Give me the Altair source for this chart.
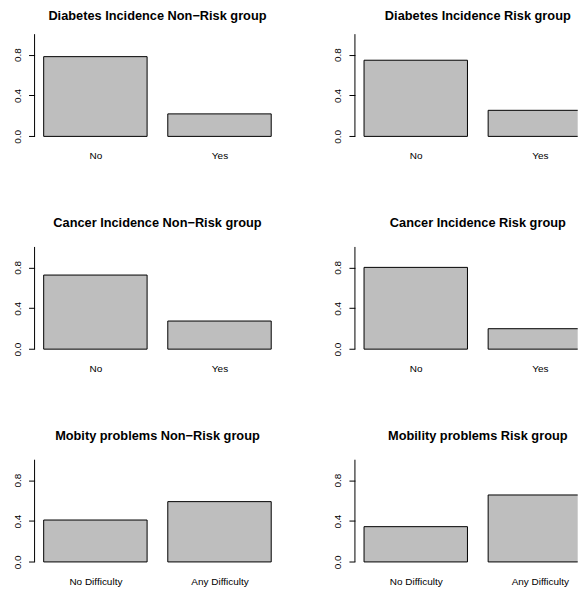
import altair as alt
import pandas as pd

# ---- data ----
titles = [
    "Diabetes Incidence Non−Risk group",
    "Diabetes Incidence Risk group",
    "Cancer Incidence Non−Risk group",
    "Cancer Incidence Risk group",
    "Mobity problems Non−Risk group",
    "Mobility problems Risk group",
]
cats_yes_no = ["No", "Yes"]
cats_mobility = ["No Difficulty", "Any Difficulty"]

diabetes_nonrisk = [0.78, 0.22]
diabetes_risk = [0.745, 0.255]
cancer_nonrisk = [0.725, 0.275]
cancer_risk = [0.80, 0.20]
mobility_nonrisk = [0.41, 0.59]
mobility_risk = [0.345, 0.655]

y_tick_values = [0.0, 0.2, 0.4, 0.6, 0.8, 1.0]
y_label_values = [0.0, 0.4, 0.8]

# R barplot geometry: bar width 1, space 0.2
bar_width = 1.0
bar_space = 0.2

# ---- layout ----
FONT = "Liberation Sans"
PLOT_W = 246          # full plot region width of the original device
PLOT_H = 110.5
RIGHT_W = 223         # right column is cut by the image edge
BAR_FILL = "#bebebe"

n_bars = 2
x_lo = bar_space
x_hi = n_bars * (bar_width + bar_space)
x_ext = 0.04 * (x_hi - x_lo)
X_MIN, X_MAX = x_lo - x_ext, x_hi + x_ext
PX_PER_UNIT = PLOT_W / (X_MAX - X_MIN)

label_test = " || ".join(f"datum.value == {v}" for v in y_label_values)
y_label_expr = f"({label_test}) ? format(datum.value, '.1f') : ''"


def panel(title, cats, vals, width, offset):
    left = [bar_space + i * (bar_width + bar_space) for i in range(len(cats))]
    df = pd.DataFrame({
        "cat": cats,
        "value": vals,
        "x0": left,
        "x1": [v + bar_width for v in left],
    })
    centers = [v + bar_width / 2 for v in left]
    cat_list = "[" + ",".join("'" + c + "'" for c in cats) + "]"
    x_label_expr = (
        f"{cat_list}[round((datum.value - {centers[0]}) / {bar_width + bar_space})]"
    )
    dx = (PLOT_W - width) / 2
    x_dom = [X_MIN, X_MIN + width / PX_PER_UNIT]
    bars = alt.Chart(df).mark_bar(
        fill=BAR_FILL, stroke="black", strokeWidth=1, clip=True
    ).encode(
        x=alt.X(
            "x0:Q",
            scale=alt.Scale(domain=x_dom, nice=False, zero=False),
            axis=alt.Axis(
                title=None, ticks=False, domain=False, grid=False, values=centers,
                labelExpr=x_label_expr, labelAngle=0, labelAlign="center",
                labelFlush=False, labelOverlap=False,
                labelFont=FONT, labelFontSize=10, labelColor="black", labelPadding=10.5,
            ),
        ),
        x2="x1:Q",
        y=alt.Y(
            "value:Q",
            scale=alt.Scale(domain=[-0.04, 1.04], nice=False, zero=False),
            axis=alt.Axis(
                title=None, domain=False, grid=False, values=y_tick_values,
                labelExpr=y_label_expr, labelAngle=270, labelAlign="center",
                labelBaseline="alphabetic", labelPadding=8.5, labelFont=FONT,
                labelFontSize=10, labelColor="black", labelOverlap=False,
                labelFlush=False, tickSize=6, tickColor="black", tickWidth=1,
            ),
        ),
        y2=alt.datum(0),
    )
    axis_line = alt.Chart(pd.DataFrame({"v": [0]})).mark_rule(
        color="black", strokeWidth=1
    ).encode(x=alt.value(0), y=alt.datum(y_tick_values[0]), y2=alt.datum(y_tick_values[-1]))
    return alt.layer(bars, axis_line).properties(
        width=width,
        height=PLOT_H,
        title=alt.TitleParams(
            text=title, font=FONT, fontSize=12.8, fontWeight="bold", color="black",
            anchor="middle", frame="group", baseline="alphabetic", offset=offset, dx=dx,
        ),
    )


panels = [
    panel(titles[0], cats_yes_no, diabetes_nonrisk, PLOT_W, -2.8),
    panel(titles[1], cats_yes_no, diabetes_risk, RIGHT_W, -2.8),
    panel(titles[2], cats_yes_no, cancer_nonrisk, PLOT_W, 3.0),
    panel(titles[3], cats_yes_no, cancer_risk, RIGHT_W, 3.0),
    panel(titles[4], cats_mobility, mobility_nonrisk, PLOT_W, 3.0),
    panel(titles[5], cats_mobility, mobility_risk, RIGHT_W, 3.0),
]

chart = alt.concat(
    *panels,
    columns=2,
    spacing={"row": 102, "column": 74.7},
    bounds="flush",
    align="none",
).properties(
    padding={"left": 3.6, "top": 1.8, "right": 0, "bottom": 0},
    background="white",
).configure_view(stroke=None)

chart.save("out.html", embed_options={"renderer": "svg", "actions": False})
